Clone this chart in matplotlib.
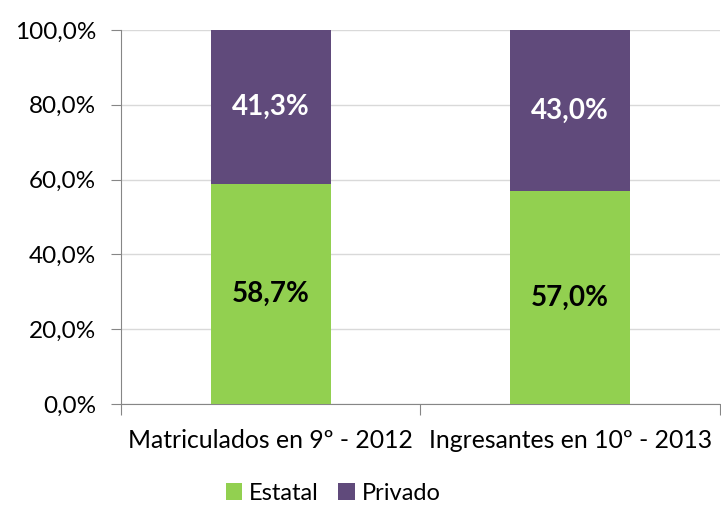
import matplotlib.pyplot as plt
import numpy as np

plt.rcParams["font.family"] = ["Lato", "DejaVu Sans"]

categories = ["Matriculados en 9º - 2012", "Ingresantes en 10º - 2013"]
estatal = [58.7, 57.0]
privado = [41.3, 43.0]

green = "#92D050"
purple = "#604A7B"

fig = plt.figure(figsize=(7.21, 5.07), dpi=100)
ax = fig.add_axes([0.1678, 0.2032, 0.8308, 0.7376])

x = np.arange(len(categories))
b1 = ax.bar(x, estatal, width=0.4, color=green, label="Estatal", zorder=3)
b2 = ax.bar(x, privado, width=0.4, bottom=estatal, color=purple, label="Privado", zorder=3)

for i in range(len(categories)):
    ax.text(x[i], estatal[i] / 2, f"{estatal[i]:.1f}%".replace(".", ","),
            ha="center", va="center", fontsize=20, fontweight="bold", color="black", zorder=4)
    ax.text(x[i], estatal[i] + privado[i] / 2, f"{privado[i]:.1f}%".replace(".", ","),
            ha="center", va="center", fontsize=20, fontweight="bold", color="white", zorder=4)

ax.set_xlim(-0.5, 1.5)
ax.set_ylim(0, 100)
ax.set_yticks(np.arange(0, 101, 20))
ax.set_yticklabels([f"{v:.1f}%".replace(".", ",") for v in np.arange(0, 101, 20)], fontsize=17.5)
ax.yaxis.grid(True, color="#D9D9D9", linewidth=1, zorder=0)

ax.set_xticks([-0.5, 0.5, 1.5])
ax.set_xticklabels([])
ax.set_xticks(x, minor=True)
ax.set_xticklabels(categories, minor=True, fontsize=17.8)
ax.tick_params(axis="x", which="major", length=8, color="#868686")
ax.tick_params(axis="x", which="minor", length=0, pad=18)
ax.tick_params(axis="y", length=7, color="#868686", pad=11)

for s in ["top", "right"]:
    ax.spines[s].set_visible(False)
for s in ["left", "bottom"]:
    ax.spines[s].set_color("#868686")

fig.legend(handles=[b1, b2], loc="center", bbox_to_anchor=(0.462, 0.027), ncol=2,
           frameon=False, fontsize=17, handlelength=0.7, handleheight=0.7,
           handletextpad=0.3, columnspacing=0.8)

fig.savefig("out.png", dpi=100)
